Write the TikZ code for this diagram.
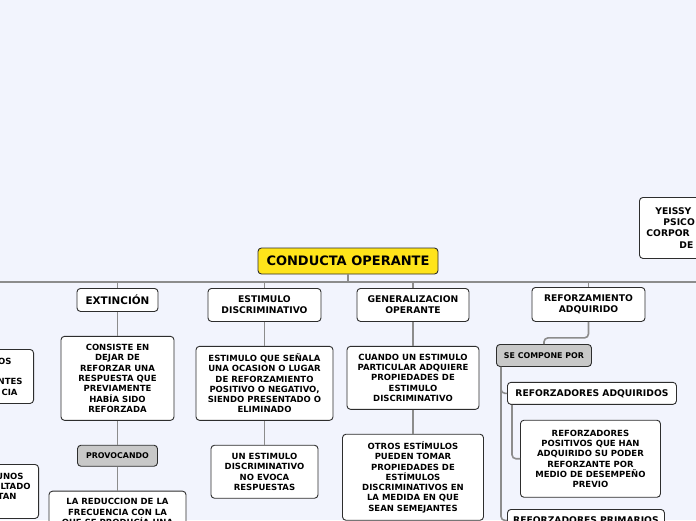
\documentclass[tikz,border=0pt]{standalone}
\usepackage{fontspec}
\setmainfont{DejaVu Sans}
\usepackage{xcolor}
\usetikzlibrary{positioning}

\definecolor{canvas}{RGB}{242,244,253}
\definecolor{rootyellow}{RGB}{255,228,26}
\definecolor{tagfill}{RGB}{200,200,200}
\definecolor{linkgray}{RGB}{140,140,140}
\definecolor{edgegray}{RGB}{45,45,45}

\begin{document}
\begin{tikzpicture}[
    x=1pt, y=-1pt,
    node distance = 24pt,
    topic/.style = {rectangle, draw=edgegray, fill=white, line width=0.9pt, rounded corners=3.5pt, align=center, inner sep=0pt, font=\fontsize{9.2}{10.7}\selectfont\bfseries},
    root/.style = {topic, fill=rootyellow, font=\fontsize{13}{15}\selectfont\bfseries, minimum width=180pt, minimum height=26pt},
    detail/.style = {topic, font=\fontsize{8.5}{10.3}\selectfont\bfseries},
    tag/.style = {topic, fill=tagfill, font=\fontsize{7.9}{9}\selectfont\bfseries},
    link/.style = {draw=linkgray, line width=1.6pt}
]

% canvas
\useasboundingbox (0,0) rectangle (696,520);
\clip (0,0) rectangle (696,520);
\fill[canvas] (0,0) rectangle (696,520);

% main topic and first level
\node (root) [root] at (348,261) {CONDUCTA OPERANTE};
\node (ext) [topic, anchor=north, minimum width=81pt, minimum height=23pt, font=\fontsize{10.4}{12}\selectfont\bfseries] at (117.5,288) {EXTINCIÓN};
\node (estd) [topic, anchor=north, minimum width=113pt, minimum height=33pt] at (264.5,288) {ESTIMULO\\DISCRIMINATIVO};
\node (gen) [topic, anchor=north, minimum width=112pt, minimum height=33pt] at (413,288) {GENERALIZACION\\OPERANTE};
\node (refz) [topic, anchor=north, minimum width=113pt, minimum height=34pt] at (588.5,287) {REFORZAMIENTO\\ADQUIRIDO};
\node (autor) [topic, anchor=north west, text width=116pt, align=left, inner xsep=7pt, minimum height=61pt, font=\fontsize{9.2}{11.2}\selectfont\bfseries] at (639,197) {\hspace*{9pt}YEISSY\\\hspace*{17pt}PSICO\\CORPOR\\\hspace*{33pt}DE};

% extincion
\node (dejar) [detail, below=of ext, minimum width=113pt, minimum height=84pt] {CONSISTE EN\\DEJAR DE\\REFORZAR UNA\\RESPUESTA QUE\\PREVIAMENTE\\HABÍA SIDO\\REFORZADA};
\node (prov) [tag, below=of dejar, minimum width=80pt, minimum height=21pt] {PROVOCANDO};
\node (reduc) [detail, below=of prov, minimum width=137pt, minimum height=43pt] {LA REDUCCION DE LA\\FRECUENCIA CON LA\\QUE SE PRODUCÍA UNA};

% estimulo discriminativo
\node (senal) [detail, below=of estd, minimum width=137pt, minimum height=74pt] {ESTIMULO QUE SEÑALA\\UNA OCASION O LUGAR\\DE REFORZAMIENTO\\POSITIVO O NEGATIVO,\\SIENDO PRESENTADO O\\ELIMINADO};
\node (noevoca) [detail, below=of senal, minimum width=107pt, minimum height=53pt] {UN ESTIMULO\\DISCRIMINATIVO\\NO EVOCA\\RESPUESTAS};

% generalizacion
\node (cuando) [detail, below=of gen, minimum width=132pt, minimum height=63pt] {CUANDO UN ESTIMULO\\PARTICULAR ADQUIERE\\PROPIEDADES DE\\ESTIMULO\\DISCRIMINATIVO};
\node (otros) [detail, below=of cuando, minimum width=141pt, minimum height=86pt] {OTROS ESTÍMULOS\\PUEDEN TOMAR\\PROPIEDADES DE\\ESTÍMULOS\\DISCRIMINATIVOS EN\\LA MEDIDA EN QUE\\SEAN SEMEJANTES};

% reforzamiento adquirido
\node (sec) [tag, anchor=north west, minimum width=95pt, minimum height=22pt] at (496,344) {SE COMPONE POR};
\node (radq) [topic, below right=15pt and 11pt of sec.south west, minimum width=169pt, minimum height=22pt] {REFORZADORES ADQUIRIDOS};
\node (pos) [detail, below right=15pt and 13pt of radq.south west, minimum width=140pt, minimum height=77pt] {REFORZADORES\\POSITIVOS QUE HAN\\ADQUIRIDO SU PODER\\REFORZANTE POR\\MEDIO DE DESEMPEÑO\\PREVIO};
\node (prim) [topic, anchor=north west, minimum width=157pt, minimum height=22pt] at (507,509) {REFORZADORES PRIMARIOS};

% cut off on the left
\node (leftA) [detail, anchor=north east, text width=100pt, align=right, inner xsep=6pt, minimum height=54pt] at (34,349) {OS\kern16pt\\\mbox{}\\NTES\kern5pt\\CIA\kern10pt};
\node (leftB) [detail, anchor=north east, text width=100pt, align=right, inner xsep=6pt, minimum height=54pt] at (39,464) {UNOS\kern9pt\\LTADO\kern2pt\\TAN\kern16pt\\\mbox{}};

% connectors
\coordinate (barL) at (-10,282);
\coordinate (barR) at (710,282);
\draw[link] (barL) -- (barR);
\draw[link] (root.south) -- (root.south |- barL);
\foreach \n in {ext, estd, gen, refz}
    \draw[link] (\n.north) -- (\n.north |- barL);

\draw[link] (ext) -- (dejar);
\draw[link] (dejar) -- (prov);
\draw[link] (prov) -- (reduc);
\draw[link] (estd) -- (senal);
\draw[link] (senal) -- (noevoca);
\draw[link] (gen) -- (cuando);
\draw[link] (cuando) -- (otros);

\draw[link, rounded corners=4pt] (refz.south) -- ++(0,16) -| (sec.north);
\draw[link, rounded corners=4pt] ([xshift=5pt]sec.south west) |- (prim.west);
\draw[link, rounded corners=4pt] ([xshift=5pt]sec.south west) |- (radq.west);
\draw[link, rounded corners=4pt] ([xshift=5pt]radq.south west) |- (pos.west);

\end{tikzpicture}
\end{document}
